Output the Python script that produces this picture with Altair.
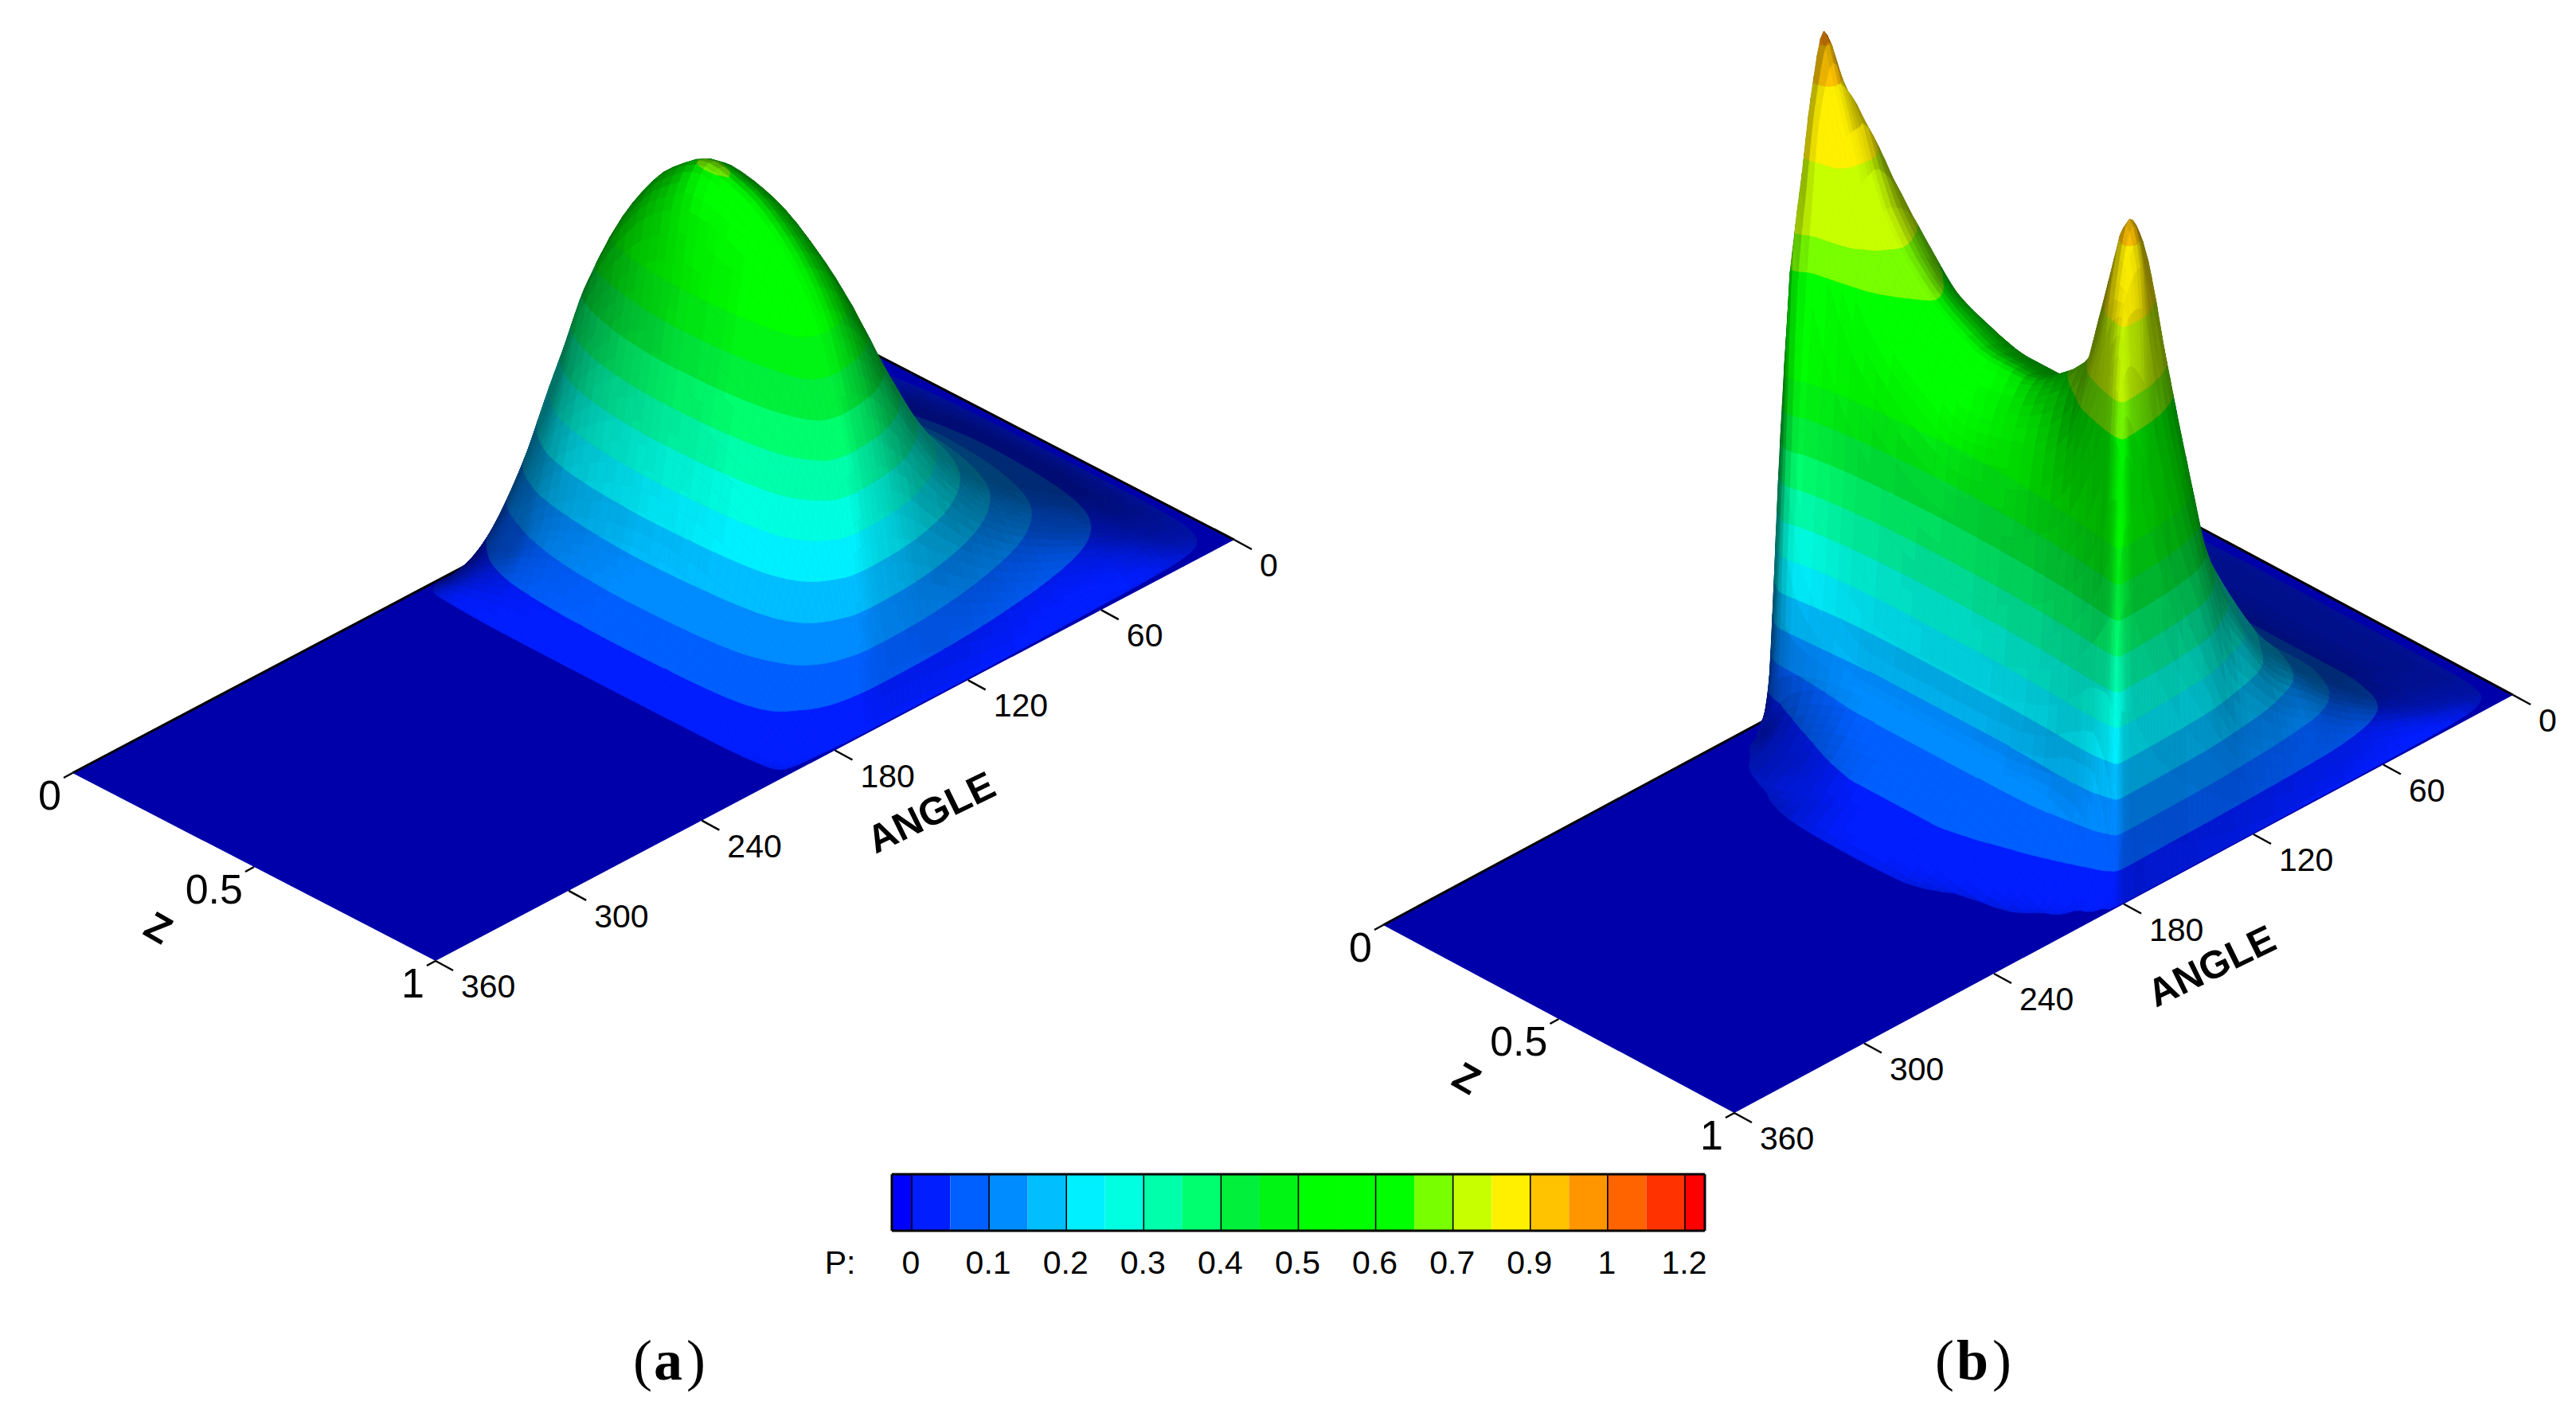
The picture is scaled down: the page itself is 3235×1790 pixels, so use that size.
import numpy as np
import altair as alt

# ---- values -----------------------------------------------------------
LEVELS = [0, .05, .1, .15, .2, .25, .3, .35, .4, .45, .5, .55, .6, .65, .7, .8, .9, .95, 1, 1.1, 1.2]
BAND_RGB = [(0,0,255),(0,30,255),(0,95,255),(0,140,255),(0,190,255),(0,240,255),(0,255,225),(0,255,170),
            (0,255,110),(0,240,60),(0,245,20),(0,255,0),(0,255,0),(0,255,0),(120,255,0),(200,255,0),
            (255,240,0),(255,195,0),(255,150,0),(255,100,0),(255,50,0),(255,0,0)]
BAR_LABELS = ["0","0.1","0.2","0.3","0.4","0.5","0.6","0.7","0.9","1","1.2"]
ANGLE_TICKS = [0, 60, 120, 180, 240, 300, 360]
Z_TICKS = [(0, "0"), (0.5, "0.5"), (1, "1")]

# Panel (a): pressure along the mid plane, and its shape across Z
ANGLE_A = [0,15,30,45,60,75,90,105,120,135,145,155,162,168,174,180,186,192,198,205]
MID_A = [0,.018,.05,.085,.125,.175,.24,.33,.45,.58,.635,.655,.62,.5,.38,.26,.16,.105,.052,0]
Z_A = [0,.03,.06,.1,.15,.2,.3,.4,.5,.6,.7,.8,.85,.9,.94,.97,1]
SHAPE_A = [0,.13,.25,.38,.52,.66,.84,.95,1,.98,.92,.8,.68,.5,.3,.14,0]

# Panel (b): pressure table, one row per angle
ANGLE_B = [0,20,45,68,87,100,113,125,140,150,160,166,172,176,180,184,188,195,205,215,225]
Z_B = [0,.01,.03,.06,.1,.2,.3,.4,.5,.6,.7,.8,.88,.93,.96,.98,.99,1]
P_B = [
 [0]*18,
 [0,.001,.004,.008,.012,.016,.018,.018,.018,.018,.018,.018,.016,.012,.008,.004,.002,0],
 [0,.004,.012,.02,.03,.04,.045,.048,.05,.05,.05,.05,.046,.04,.03,.018,.009,0],
 [0,.008,.025,.045,.065,.09,.1,.105,.11,.11,.11,.11,.1,.085,.065,.04,.02,0],
 [0,.014,.045,.085,.12,.17,.19,.2,.2,.2,.19,.18,.16,.14,.11,.07,.035,0],
 [0,.02,.07,.2,.27,.31,.31,.3,.3,.29,.28,.26,.21,.18,.14,.09,.045,0],
 [0,.03,.11,.26,.42,.42,.41,.4,.39,.38,.37,.35,.29,.25,.19,.12,.06,0],
 [0,.04,.15,.34,.55,.52,.5,.49,.48,.47,.46,.44,.4,.33,.25,.16,.085,0],
 [0,.05,.22,.48,.68,.65,.6,.58,.57,.57,.57,.57,.58,.55,.43,.28,.15,0],
 [0,.06,.28,.62,.79,.72,.65,.62,.6,.6,.62,.66,.74,.72,.58,.37,.2,0],
 [0,.07,.36,.88,.875,.74,.67,.63,.61,.61,.64,.7,.85,.89,.76,.5,.27,0],
 [0,.08,.5,.965,.9,.73,.65,.61,.58,.59,.62,.68,.84,.93,.87,.58,.32,0],
 [0,.1,.47,.88,.85,.68,.6,.56,.53,.54,.56,.62,.76,.85,.84,.65,.38,0],
 [0,.14,.43,.78,.7,.56,.5,.46,.44,.45,.47,.52,.62,.72,.76,.68,.42,0],
 [0,.2,.45,.68,.5,.36,.3,.28,.28,.28,.3,.33,.38,.43,.48,.5,.4,0],
 [0,.03,.16,.35,.25,.17,.15,.15,.15,.15,.15,.16,.18,.18,.14,.08,.03,0],
 [0,0,.01,.04,.07,.1,.11,.11,.11,.11,.11,.11,.09,.06,.03,.005,0,0],
 [0,0,0,.008,.025,.055,.075,.08,.08,.08,.075,.06,.035,.012,0,0,0,0],
 [0,0,0,0,.003,.02,.04,.05,.05,.05,.04,.02,.004,0,0,0,0,0],
 [0,0,0,0,0,.002,.01,.02,.022,.018,.004,0,0,0,0,0,0,0],
 [0]*18,
]

# View of each panel: where the angle=0,Z=0 corner falls, the angle and Z axes, height of P=1
VIEW_A = dict(o=(1094, 442), a=(-1003, 529), z=(456, 236), h=890)
VIEW_B = dict(o=(2715, 637), a=(-978, 525), z=(441, 236), h=885)


def pchip(x, y, xn):
    x = np.asarray(x, float); y = np.asarray(y, float); h = np.diff(x)
    d = np.diff(y, axis=0) / h[:, None]
    m = np.zeros_like(y)
    for i in range(1, len(x) - 1):
        w1 = 2*h[i] + h[i-1]; w2 = h[i] + 2*h[i-1]
        a, b = d[i-1], d[i]
        good = a*b > 0
        m[i][good] = (w1+w2) / (w1/a[good] + w2/b[good])
    idx = np.clip(np.searchsorted(x, xn, side="right") - 1, 0, len(x) - 2)
    s = ((xn - x[idx]) / h[idx])[:, None]
    hh = h[idx][:, None]
    return ((2*s**3-3*s**2+1)*y[idx] + (s**3-2*s**2+s)*hh*m[idx]
            + (-2*s**3+3*s**2)*y[idx+1] + (s**3-s**2)*hh*m[idx+1])


def refine(v, k):
    v = np.asarray(v, float)
    return np.concatenate([np.linspace(v[i], v[i+1], k, endpoint=False) for i in range(len(v)-1)] + [v[-1:]])


def clip(poly, lev, keep_above):
    out = []
    for i in range(len(poly)):
        p, q = poly[i], poly[(i+1) % len(poly)]
        pin = p[2] >= lev if keep_above else p[2] <= lev
        qin = q[2] >= lev if keep_above else q[2] <= lev
        if pin:
            out.append(p)
        if pin != qin:
            f = (lev - p[2]) / (q[2] - p[2])
            out.append((p[0]+f*(q[0]-p[0]), p[1]+f*(q[1]-p[1]), lev))
    return out


def box(s):
    p = np.pad(s, 1, mode="edge")
    return sum(p[1+i:p.shape[0]-1+i, 1+j:p.shape[1]-1+j] for i in (-1, 0, 1) for j in (-1, 0, 1)) / 9


def surface(angles, zs, table, view, ka=4, kz=4):
    an = refine(angles, ka); zn = refine(zs, kz)
    fine = pchip(angles, table, an)
    fine = pchip(zs, fine.T, zn).T
    fine = np.maximum(fine, 0)
    o, av, zv, hh = view["o"], view["a"], view["z"], view["h"]
    U, V, W = 1426/360.0, 641.0, hh/0.853
    wu = np.gradient(fine, an*U, axis=0) * W
    wv = np.gradient(fine, zn*V, axis=1) * W
    dot = (-.6*wu - .606*wv + .5225) / np.sqrt(1 + wu**2 + wv**2)
    shade = np.where(dot > .5225, .667 + 1.5*(dot-.5225), .667 + .694*(dot-.5225))
    shade = box(np.clip(shade, .45, 1))
    feats = []
    lv = np.array(LEVELS)
    def screen(p):
        t = p[0]/360.0
        return [round(o[0]+t*av[0]+p[1]*zv[0]-8, 1), round(o[1]+t*av[1]+p[1]*zv[1]-hh*p[2]-8, 1)]
    for i in range(len(an)-1):
        for j in range(len(zn)-1):
            c = [(an[i], zn[j], fine[i,j]), (an[i], zn[j+1], fine[i,j+1]),
                 (an[i+1], zn[j+1], fine[i+1,j+1]), (an[i+1], zn[j], fine[i+1,j])]
            lo, hi = min(q[2] for q in c), max(q[2] for q in c)
            if hi <= .002:
                continue
            sh = float(shade[i:i+2, j:j+2].mean())
            sh = round(sh*48)/48
            b0 = max(int(np.searchsorted(lv, lo, side="right")), 1)
            b1 = max(int(np.searchsorted(lv, hi, side="left")), b0)
            for b in range(b0, b1+1):
                poly = clip(c, lv[b-1] if b > 1 else .002, True)
                if b < len(lv) and len(poly) >= 3:
                    poly = clip(poly, lv[b], False)
                if len(poly) < 3:
                    continue
                r, g, bl = BAND_RGB[min(b, len(BAND_RGB)-1)]
                col = "#%02x%02x%02x" % (int(r*sh), int(g*sh), int(bl*sh))
                ring = [screen(q) for q in poly]
                ring.append(ring[0])
                feats.append({"type": "Feature", "properties": {"c": col},
                              "geometry": {"type": "Polygon", "coordinates": [ring]}})
    return feats


def flat(view):
    o, a, z = view["o"], view["a"], view["z"]
    pts = [(0, 0), (1, 0), (1, 1), (0, 1), (0, 0)]
    ring = [[o[0]+t*a[0]+s*z[0]-8, o[1]+t*a[1]+s*z[1]-8] for t, s in pts]
    return {"type": "Feature", "properties": {"c": "#0000aa"},
            "geometry": {"type": "Polygon", "coordinates": [ring]}}


def at(view, angle, zz):
    o, a, z = view["o"], view["a"], view["z"]
    t = angle/360.0
    return o[0]+t*a[0]+zz*z[0], o[1]+t*a[1]+zz*z[1]


P_A = np.outer(MID_A, SHAPE_A)
features_a = surface(ANGLE_A, Z_A, P_A, VIEW_A)
features_b = surface(ANGLE_B, Z_B, np.array(P_B, float), VIEW_B, 4, 3)

W_PLOT, H_PLOT = 3215, 1770
XS = alt.Scale(domain=[8, 8+W_PLOT], range=[0, W_PLOT], nice=False, zero=False)
YS = alt.Scale(domain=[8, 8+H_PLOT], range=[0, H_PLOT], nice=False, zero=False)
X = lambda f="x": alt.X(f+":Q", scale=XS, axis=None)
Y = lambda f="y": alt.Y(f+":Q", scale=YS, axis=None)


def shapes(feats, sw=0.8):
    return alt.Chart(alt.Data(values=feats)).mark_geoshape(strokeWidth=sw, strokeJoin="round").encode(
        fill=alt.Fill("properties.c:N", scale=None),
        stroke=alt.Stroke("properties.c:N", scale=None)).project(type="identity", scale=1, translate=[0, 0])


def rules(rows, width=2, color="black"):
    return alt.Chart(alt.Data(values=rows)).mark_rule(strokeWidth=width, color=color).encode(
        x=X(), y=Y(), x2="x2:Q", y2="y2:Q")


def texts(rows, size, font="Liberation Sans", bold=False, angle=0, align="center", baseline="middle"):
    return alt.Chart(alt.Data(values=rows)).mark_text(
        fontSize=size, font=font, fontWeight="bold" if bold else "normal", angle=angle,
        align=align, baseline=baseline, color="black").encode(x=X(), y=Y(), text="t:N")


layers = []
edges, ticks, ang_lab, z_lab = [], [], [], []
for view in (VIEW_A, VIEW_B):
    layers.append(shapes([flat(view)], 0))
    p0 = at(view, 0, 0); p1 = at(view, 360, 0); p2 = at(view, 0, 1)
    edges.append(dict(x=p0[0], y=p0[1], x2=p1[0], y2=p1[1]))
    edges.append(dict(x=p0[0], y=p0[1], x2=p2[0], y2=p2[1]))
    for a in ANGLE_TICKS:
        bx, by = at(view, a, 1)
        ticks.append(dict(x=bx, y=by, x2=bx+22, y2=by+12))
        ang_lab.append(dict(x=bx+32, y=by+34, t=str(a)))
    for zz, lab in Z_TICKS:
        bx, by = at(view, 360, zz)
        ticks.append(dict(x=bx, y=by, x2=bx-11, y2=by+6))
        z_lab.append(dict(x=bx-14, y=by+30, t=lab))
layers.append(rules(edges, 3))
layers.append(shapes(features_a))
layers.append(shapes(features_b))
layers.append(rules(ticks, 2.5))
layers.append(texts(ang_lab, 41, align="left"))
layers.append(texts(z_lab, 52, align="right"))
layers.append(texts([dict(x=1170, y=1022, t="ANGLE"), dict(x=2778, y=1215, t="ANGLE")], 49, bold=True, angle=334))
layers.append(texts([dict(x=198, y=1167, t="Z"), dict(x=1841, y=1356, t="Z")], 49, bold=True, angle=30))

# colour bar
BAR_LEFT, BAR_FIRST, BAR_STEP, BAR_RIGHT = 1120, 1145, 48.55, 2141
BAR_TOP, BAR_BOTTOM = 1475, 1546
edges_x = [BAR_LEFT] + [BAR_FIRST + BAR_STEP*i for i in range(21)] + [BAR_RIGHT]
cells = [dict(x=edges_x[i], x2=edges_x[i+1], y=BAR_TOP, y2=BAR_BOTTOM,
              c="#%02x%02x%02x" % BAND_RGB[i]) for i in range(22)]
layers.append(alt.Chart(alt.Data(values=cells)).mark_rect().encode(
    x=X(), x2="x2:Q", y=Y(), y2="y2:Q", color=alt.Color("c:N", scale=None)))
lines = [dict(x=BAR_FIRST+2*BAR_STEP*i, x2=BAR_FIRST+2*BAR_STEP*i, y=BAR_TOP, y2=BAR_BOTTOM) for i in range(11)]
lines += [dict(x=BAR_LEFT, x2=BAR_RIGHT, y=BAR_TOP, y2=BAR_TOP), dict(x=BAR_LEFT, x2=BAR_RIGHT, y=BAR_BOTTOM, y2=BAR_BOTTOM),
          dict(x=BAR_LEFT, x2=BAR_LEFT, y=BAR_TOP, y2=BAR_BOTTOM), dict(x=BAR_RIGHT, x2=BAR_RIGHT, y=BAR_TOP, y2=BAR_BOTTOM)]
layers.append(rules(lines[:11], 1.6))
layers.append(rules(lines[11:], 3))
layers.append(texts([dict(x=BAR_FIRST+2*BAR_STEP*i-1, y=1588, t=s) for i, s in enumerate(BAR_LABELS)], 41))
layers.append(texts([dict(x=1055, y=1588, t="P:")], 41))

# panel captions
SERIF = "Liberation Serif"
layers.append(texts([dict(x=795, y=1733, t="("), dict(x=862, y=1733, t=")"),
                     dict(x=2430, y=1733, t="("), dict(x=2502, y=1733, t=")")], 72, font=SERIF, align="left", baseline="alphabetic"))
layers.append(texts([dict(x=821, y=1733, t="a"), dict(x=2457, y=1733, t="b")], 72, font=SERIF, bold=True, align="left", baseline="alphabetic"))

chart = alt.layer(*layers).properties(
    width=W_PLOT, height=H_PLOT, padding=0, autosize=alt.AutoSizeParams(type="none"),
    background="white").configure_view(stroke=None)
chart.save("out.html", embed_options={"renderer": "svg", "actions": False})
